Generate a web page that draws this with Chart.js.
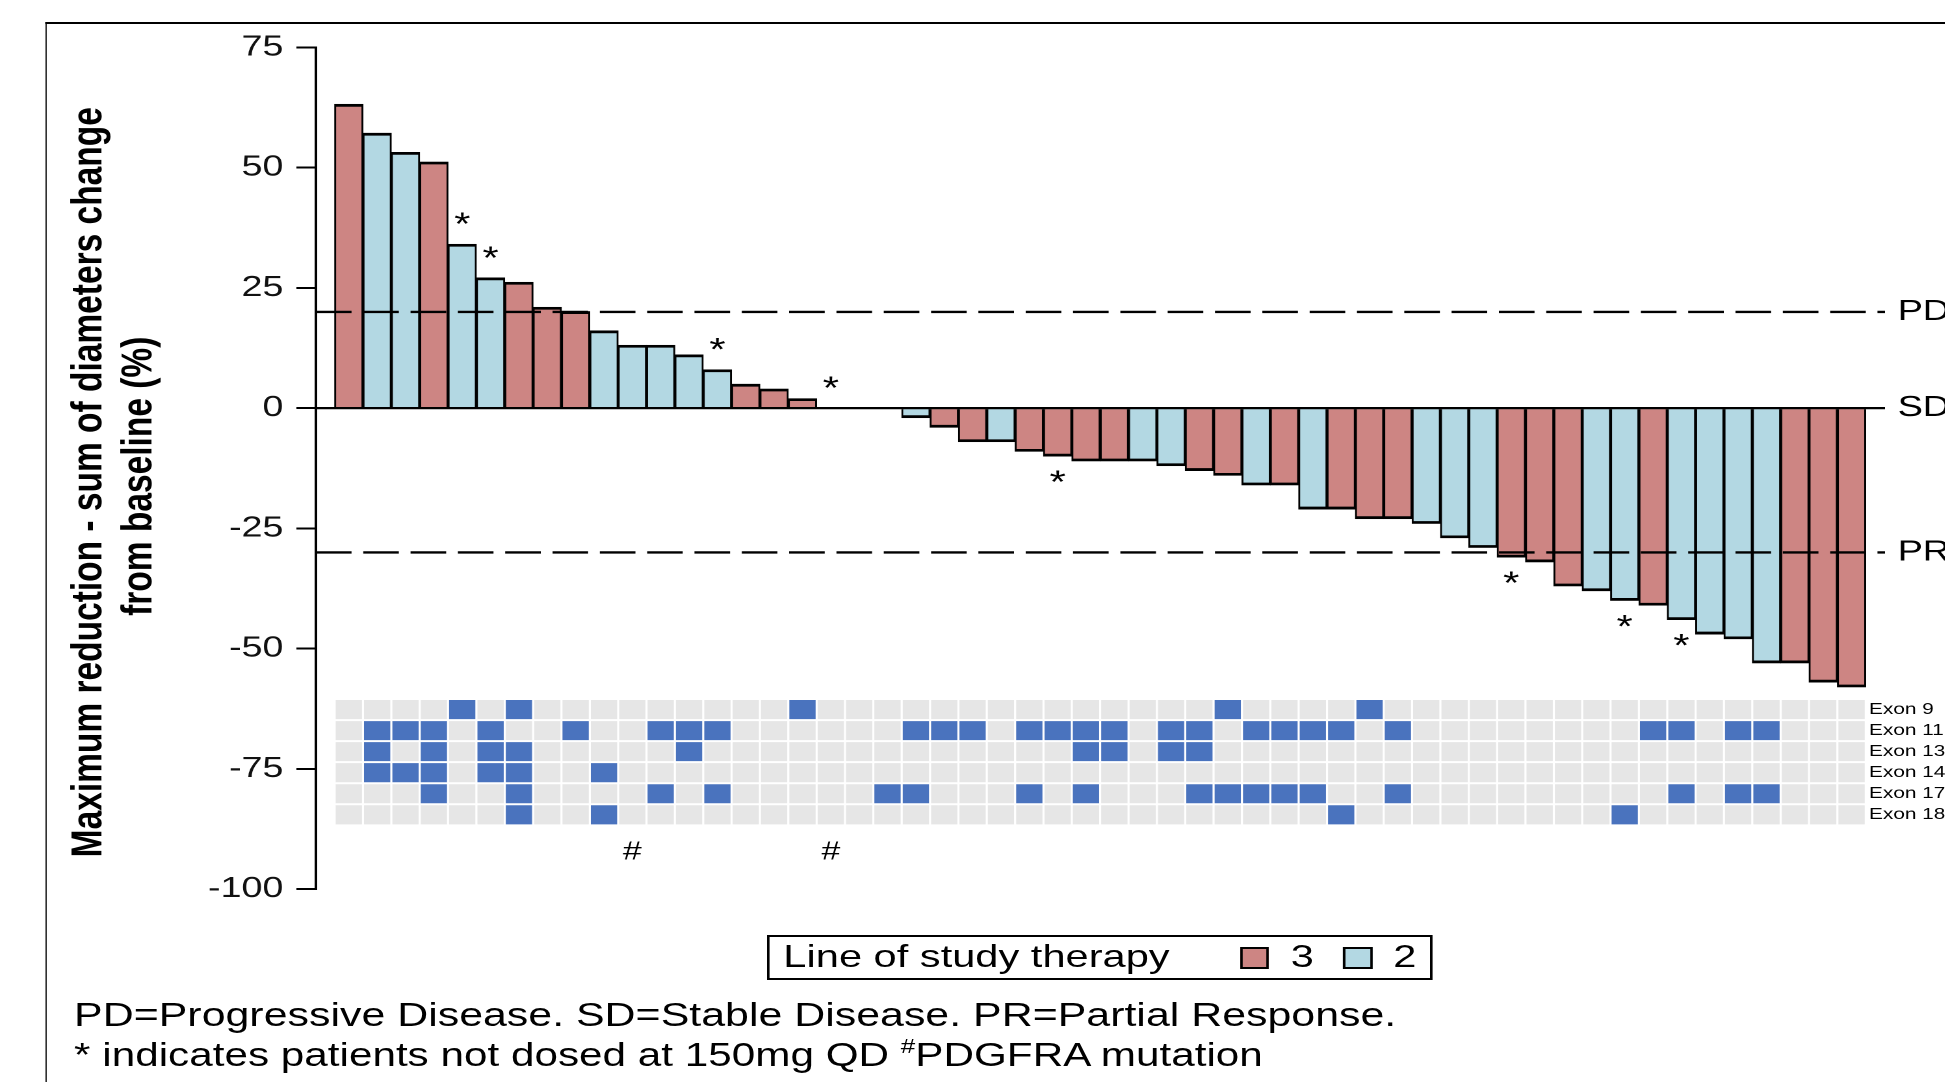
<!DOCTYPE html>
<html>
<head>
<meta charset="utf-8">
<title>Waterfall - maximum reduction from baseline</title>
<script src="https://cdn.jsdelivr.net/npm/chart.js@4.4.1/dist/chart.umd.min.js"></script>
<style>
  html, body { margin: 0; padding: 0; background: #fff; overflow: hidden; width: 1945px; height: 1082px; }
  /* the source figure is a horizontally stretched export, so the whole page is drawn narrow and stretched */
  #page { position: absolute; left: 0; top: 0; width: 1496px; height: 1082px; transform: scaleX(1.3); transform-origin: 0 0;
          font-family: "Liberation Sans", Arial, sans-serif; color: #000; }
  #frame { position: absolute; left: 35px; top: 21.5px; width: 1600px; height: 1200px; border-left: 1.6px solid #000; border-top: 2px solid #000; }
  #chartWrap { position: absolute; left: 0; top: 0; width: 1496px; height: 1082px; }
  #legendBox { position: absolute; left: 590px; top: 935px; width: 512px; height: 45px; box-sizing: border-box; border: 2px solid #000; }
  .lg { position: absolute; top: 939.6px; font-size: 32px; line-height: 32px; white-space: nowrap; }
  .sw { position: absolute; top: 946.5px; width: 22.5px; height: 22px; box-sizing: border-box; border: 2px solid #000; }
  #notes { position: absolute; left: 57px; top: 995.3px; font-size: 33px; line-height: 40px; white-space: nowrap; }
  #notes .l2 { font-size: 32.5px; }
  #notes .sup { position: relative; top: -13px; font-size: 20px; }
</style>
</head>
<body>
<div id="page">
  <div id="frame"></div>
  <div id="chartWrap"><canvas id="waterfall"></canvas></div>
  <div id="legendBox"></div>
  <span class="lg" style="left:602.6px">Line of study therapy</span>
  <div class="sw" id="sw3" style="left:953.8px"></div>
  <span class="lg" style="left:992.8px">3</span>
  <div class="sw" id="sw2" style="left:1033.3px"></div>
  <span class="lg" style="left:1071.8px">2</span>
  <div id="notes">PD=Progressive Disease. SD=Stable Disease. PR=Partial Response.<br><span class="l2">* indicates patients not dosed at 150mg QD <span class="sup">#</span>PDGFRA mutation</span></div>
</div>
<script>
// best % change in sum of diameters, one entry per patient (sorted)
const values = [63.2, 57.2, 53.2, 51.2, 34.1, 27.1, 26.2, 21.0, 20.1, 16.1,
                13.1, 13.1, 11.1, 8.0, 5.0, 4.0, 2.0, 0, 0, 0,
                -2, -4, -7, -7, -9, -10, -11, -11, -11, -12,
                -13, -14, -16, -16, -21, -21, -23, -23, -24, -27,
                -29, -31, -32, -37, -38, -40, -41, -44, -47, -48,
                -53, -53, -57, -58];
// line of study therapy per patient
const therapyLine = [3, 2, 2, 3, 2, 2, 3, 3, 3, 2,
                     2, 2, 2, 2, 3, 3, 3, 3, 3, 3,
                     2, 3, 3, 2, 3, 3, 3, 3, 2, 2,
                     3, 3, 2, 3, 2, 3, 3, 3, 2, 2,
                     2, 3, 3, 3, 2, 2, 3, 2, 2, 2,
                     2, 3, 3, 3];
const notDosed150 = [4, 5, 13, 17, 25, 41, 45, 47];   // '*'
const pdgfra = [10, 17];                               // '#'

// mutation grid: patients carrying each exon mutation
const exonNames = ['Exon 9', 'Exon 11', 'Exon 13', 'Exon 14', 'Exon 17', 'Exon 18'];
const exon9 = [4, 6, 16, 31, 36];
const exon11 = [1, 2, 3, 5, 8, 11, 12, 13, 20, 21, 22, 24, 25, 26, 27, 29, 30, 32, 33, 34, 35, 37, 46, 47, 49, 50];
const exon13 = [1, 3, 5, 6, 12, 26, 27, 29, 30];
const exon14 = [1, 2, 3, 5, 6, 9];
const exon17 = [3, 6, 11, 13, 19, 20, 24, 26, 30, 31, 32, 33, 34, 37, 47, 49, 50];
const exon18 = [6, 9, 35, 45];
const exonRows = [exon9, exon11, exon13, exon14, exon17, exon18];

const yTicks = [75, 50, 25, 0, -25, -50, -75, -100];
const yTitle = ['Maximum reduction - sum of diameters change', 'from baseline (%)'];
const refNames = ['PD', 'SD', 'PR'];
const refValues = [20, 0, -30];

const FONT = '"Liberation Sans", Arial, sans-serif';
const RED = '#CD8583';
const BLUE = '#B3D8E3';
const CELL_ON = '#4A73BE';
const CELL_OFF = '#E6E6E6';
const HEAT_TOP = -60.49;   // top of mutation strip, in y units
const ROW_H = 4.378;       // row height, in y units

document.getElementById('sw3').style.background = RED;
document.getElementById('sw2').style.background = BLUE;

const barData = values.map((v, i) => ({x: i, y: v}));
const barColors = therapyLine.map(l => l === 3 ? RED : BLUE);

const heatSets = exonRows.map((cols, r) => ({
    data: values.map((_, i) => ({x: i, y: [HEAT_TOP - r * ROW_H, HEAT_TOP - (r + 1) * ROW_H]})),
    backgroundColor: values.map((_, i) => cols.includes(i) ? CELL_ON : CELL_OFF),
    borderColor: '#fff',
    borderWidth: {left: 0.8, right: 0.8, top: 1, bottom: 1},
    borderSkipped: false,
    inflateAmount: 0
}));

const annotations = {
    id: 'annotations',
    afterDatasetsDraw(chart) {
        const {ctx, chartArea: area, scales: {x, y}} = chart;
        ctx.save();
        ctx.strokeStyle = '#000';
        ctx.fillStyle = '#000';

        // PD / SD / PR reference lines
        refValues.forEach((v, k) => {
            const py = y.getPixelForValue(v);
            ctx.beginPath();
            ctx.setLineDash(v === 0 ? [] : [27.4, 9]);
            ctx.lineWidth = v === 0 ? 2.2 : 2.4;
            ctx.moveTo(area.left, py);
            ctx.lineTo(area.right, py);
            ctx.stroke();
            ctx.font = '29px ' + FONT;
            ctx.textAlign = 'left';
            ctx.textBaseline = 'middle';
            ctx.fillText(refNames[k], area.right + 9.7, py);
        });
        ctx.setLineDash([]);

        // asterisks
        ctx.font = '32px ' + FONT;
        ctx.textAlign = 'center';
        ctx.textBaseline = 'alphabetic';
        notDosed150.forEach(i => {
            const v = values[i];
            const c = v >= 0 ? y.getPixelForValue(v) - 27.5 : y.getPixelForValue(v) + 18.3;
            ctx.fillText('*', x.getPixelForValue(i), c + 0.58 * 32);
        });

        // PDGFRA marks under the grid
        const heatBottom = y.getPixelForValue(HEAT_TOP - exonRows.length * ROW_H);
        ctx.font = '26px ' + FONT;
        ctx.textBaseline = 'middle';
        pdgfra.forEach(i => ctx.fillText('#', x.getPixelForValue(i), heatBottom + 27));

        // row labels
        ctx.font = '16px ' + FONT;
        ctx.textAlign = 'left';
        const heatRight = x.getPixelForValue(values.length - 0.5);
        exonNames.forEach((n, r) => {
            ctx.fillText(n, heatRight + 2.5, y.getPixelForValue(HEAT_TOP - (r + 0.5) * ROW_H));
        });

        // y axis title, set a little below the axis middle as in the source
        ctx.font = 'bold 33.5px ' + FONT;
        ctx.textAlign = 'center';
        const mid = (area.top + area.bottom) / 2;
        [14, 8].forEach((dy, k) => {
            ctx.save();
            ctx.translate(y.left + 69 + k * 38.5, mid + dy);
            ctx.rotate(-Math.PI / 2);
            ctx.fillText(yTitle[k], 0, 0);
            ctx.restore();
        });
        ctx.restore();
    }
};

const ctx = document.getElementById('waterfall').getContext('2d');
const chart = new Chart(ctx, {
    type: 'bar',
    data: {
        datasets: [{
            data: barData,
            backgroundColor: barColors,
            borderColor: '#000',
            borderWidth: {left: 1.5, right: 1.5, top: 2.8, bottom: 2.8},
            borderSkipped: 'start'
        }].concat(heatSets)
    },
    options: {
        responsive: true,
        maintainAspectRatio: false,
        animation: false,
        devicePixelRatio: 2,
        layout: {padding: {left: 0, top: 47.5, right: 46, bottom: 193}},
        datasets: {bar: {grouped: false, barPercentage: 1, categoryPercentage: 1}},
        plugins: {legend: {display: false}, tooltip: {enabled: false}},
        scales: {
            x: {
                type: 'linear',
                display: false,
                offset: false,
                min: -1.16,
                max: 54.18,
                ticks: {stepSize: 10}
            },
            y: {
                min: -100,
                max: 75,
                afterBuildTicks: s => { s.ticks = yTicks.map(v => ({value: v})); },
                afterFit: s => { s.width = 243; },
                ticks: {padding: 10, color: '#111', font: {family: FONT, size: 29}},
                grid: {drawOnChartArea: false, drawTicks: true, tickLength: 15, color: '#000', lineWidth: 2},
                border: {display: true, color: '#000', width: 2},
                title: {display: false}
            }
        }
    },
    plugins: [annotations]
});
</script>
</body>
</html>
